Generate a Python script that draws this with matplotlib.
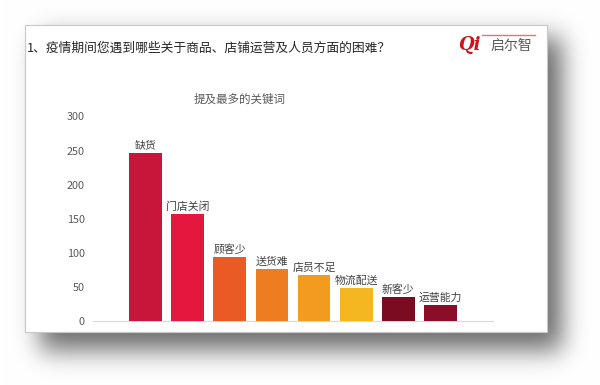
import numpy as np
import matplotlib
matplotlib.use("Agg")
import matplotlib.pyplot as plt
from matplotlib.patches import Rectangle

plt.rcParams['font.family'] = ['Noto Sans CJK SC', 'DejaVu Sans']

categories = ["缺货", "门店关闭", "顾客少", "送货难", "店员不足", "物流配送", "新客少", "运营能力"]
values = [247, 157, 94, 76, 67, 48, 35, 23]
colors = ["#C8163A", "#E5173F", "#E95A24", "#EE7D22", "#F39B1F", "#F5B721", "#7B0B21", "#8C0D27"]
yticks = [0, 50, 100, 150, 200, 250, 300]
title = "1、疫情期间您遇到哪些关于商品、店铺运营及人员方面的困难？"
chart_title = "提及最多的关键词"

W, H = 600, 385
fig = plt.figure(figsize=(6, 3.85), dpi=100)
fig.patch.set_facecolor("white")

# background with slide shadow
bg = fig.add_axes([0, 0, 1, 1], zorder=0)
bg.axis("off")

def blur1d(n, a, b, sigma):
    ind = np.zeros(n)
    ind[a:b] = 1.0
    k = np.arange(-3 * sigma, 3 * sigma + 1)
    ker = np.exp(-0.5 * (k / sigma) ** 2)
    ker /= ker.sum()
    return np.convolve(ind, ker, mode="same")

fx = blur1d(W, 40, 562, 12)
fy = blur1d(H, 38, 350, 13)
sh = np.outer(fy, fx)
img = 1 - 0.58 * sh
rgb = np.dstack([img, img, img])
bg.imshow(rgb, extent=(0, W, H, 0), aspect="auto", interpolation="bilinear")
bg.add_patch(Rectangle((25, 25), 522, 307, facecolor="white", edgecolor="#C8C8C8", linewidth=0.8))
bg.set_xlim(0, W)
bg.set_ylim(H, 0)

# title
fig.text(27 / W, 1 - 48 / H, title, fontsize=9.2, color="#262626", va="center", ha="left")
# logo
fig.text(458 / W, 1 - 45 / H, "Qi", fontsize=13, color="#D0121B", fontweight="bold",
         style="italic", family=["DejaVu Serif"], va="center", ha="left")
fig.text(491 / W, 1 - 46 / H, "启尔智", fontsize=10, color="#595959", va="center", ha="left")
fig.add_artist(plt.Line2D([482 / W, 535 / W], [1 - 35 / H, 1 - 35 / H], color="#E8303A",
                          linewidth=1.0, alpha=0.7))

# chart
ax = fig.add_axes([93 / W, (H - 321) / H, 400 / W, (321 - 116.5) / H], zorder=2)
ax.set_facecolor("none")
x = np.arange(len(categories))
bars = ax.bar(x, values, width=0.78, color=colors, zorder=3)
for xi, v, c in zip(x, values, categories):
    ax.annotate(c, (xi, v), xytext=(0, 1.5), textcoords="offset points",
                ha="center", va="bottom", fontsize=7.8, color="#404040")
ax.set_xlim(-1.25, 8.25)
ax.set_ylim(0, 300)
ax.set_yticks(yticks)
ax.set_xticks([])
ax.tick_params(axis="y", length=0, pad=6, labelsize=7.8, labelcolor="#595959")
for s in ["top", "right", "left"]:
    ax.spines[s].set_visible(False)
ax.spines["bottom"].set_color("#D9D9D9")
ax.spines["bottom"].set_linewidth(0.8)

fig.text(240 / W, 1 - 99 / H, chart_title, fontsize=8.3, color="#595959", ha="center", va="center")

fig.savefig("out.png", dpi=100)
